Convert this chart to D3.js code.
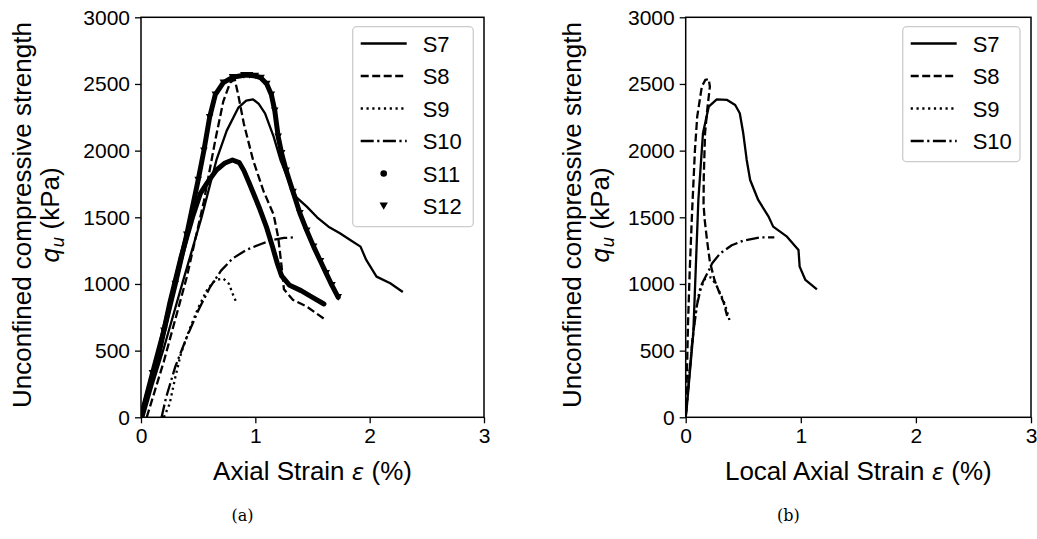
<!DOCTYPE html>
<html>
<head>
<meta charset="utf-8">
<script src="https://cdn.jsdelivr.net/npm/d3@7"></script>
<style>
body { margin: 0; background: #fff; }
text { font-family: "Liberation Sans", Arial, sans-serif; fill: #000; }
</style>
</head>
<body>
<svg width="1037" height="539"></svg>
<script>
// tick values
var xTicks = [0, 1, 2, 3];
var yTicks = [0, 500, 1000, 1500, 2000, 2500, 3000];

// (a) axial strain [%], qu [kPa]
var s7a = [[0.02,0],[0.1,240],[0.2,520],[0.36,1000],[0.53,1500],[0.66,1930],[0.75,2150],[0.85,2320],[0.92,2375],[0.98,2385],[1.03,2350],[1.085,2280],[1.16,2105],[1.22,1930],[1.29,1780],[1.36,1650],[1.45,1580],[1.54,1500],[1.64,1430],[1.74,1380],[1.83,1330],[1.92,1280],[1.97,1180],[2.06,1055],[2.18,1005],[2.29,940]];
var s8a = [[0.05,0],[0.2,420],[0.4,1050],[0.55,1620],[0.65,2080],[0.72,2370],[0.78,2510],[0.82,2535],[0.85,2420],[0.9,2200],[0.98,1930],[1.07,1700],[1.16,1520],[1.2,1350],[1.23,1130],[1.25,960],[1.33,880],[1.45,830],[1.6,740]];
var s9a = [[0.2,0],[0.25,100],[0.3,300],[0.35,480],[0.42,650],[0.5,820],[0.58,960],[0.65,1030],[0.72,1040],[0.77,1000],[0.8,930],[0.84,850]];
var s10a = [[0.18,0],[0.22,150],[0.3,380],[0.4,600],[0.5,800],[0.6,970],[0.7,1100],[0.8,1190],[0.92,1255],[1.05,1300],[1.15,1330],[1.25,1345],[1.35,1350]];
var s11a = [[0,0],[0.05,150],[0.15,450],[0.25,850],[0.35,1200],[0.45,1500],[0.52,1680],[0.58,1760],[0.66,1855],[0.73,1905],[0.8,1930],[0.86,1910],[0.9,1850],[0.95,1750],[1.04,1560],[1.1,1420],[1.15,1280],[1.19,1160],[1.23,1060],[1.3,990],[1.4,950],[1.5,900],[1.6,850]];
var s12a = [[0,0],[0.1,330],[0.2,650],[0.3,1000],[0.4,1370],[0.5,1780],[0.55,2000],[0.6,2250],[0.65,2420],[0.72,2510],[0.8,2550],[0.9,2565],[0.95,2565],[1.0,2560],[1.05,2545],[1.1,2500],[1.14,2420],[1.17,2300],[1.2,2105],[1.23,1980],[1.27,1850],[1.33,1690],[1.39,1530],[1.45,1400],[1.51,1280],[1.57,1170],[1.62,1080],[1.67,990],[1.725,900]];

// (b) local axial strain [%], qu [kPa]
var s7b = [[0,0],[0.01,80],[0.066,630],[0.11,1630],[0.15,2130],[0.2,2330],[0.27,2385],[0.36,2380],[0.43,2342],[0.47,2280],[0.5,2130],[0.53,1930],[0.56,1780],[0.63,1630],[0.72,1505],[0.76,1430],[0.88,1355],[0.98,1255],[0.99,1130],[1.04,1030],[1.14,960]];
var s8b = [[0,0],[0.01,300],[0.02,700],[0.035,1100],[0.055,1530],[0.08,2000],[0.1,2255],[0.14,2480],[0.17,2530],[0.2,2537],[0.21,2480],[0.19,2330],[0.168,2130],[0.157,1800],[0.155,1600],[0.165,1480],[0.185,1330],[0.21,1167],[0.25,1030],[0.29,940],[0.33,860],[0.36,760]];
var s9b = [[0,0],[0.02,200],[0.05,500],[0.08,750],[0.12,950],[0.17,1040],[0.22,1050],[0.26,1000],[0.3,930],[0.34,850],[0.38,730]];
var s10b = [[0,0],[0.03,300],[0.06,600],[0.1,850],[0.14,1000],[0.2,1100],[0.23,1155],[0.3,1230],[0.4,1290],[0.5,1325],[0.65,1350],[0.77,1350]];

var svg = d3.select("svg");

var styles = {
    solid: null,
    dashed: "8,3.5",
    dotted: "2.2,3.6",
    dashdot: "13,3.5,2.2,3.5"
};

function panel(x0, x1, xlabel, caption, ylabelX, series, legend) {
    var xScale = d3.scaleLinear().domain([0, 3]).range([x0, x1]);
    var yScale = d3.scaleLinear().domain([0, 3000]).range([417.3, 17.3]);
    var g = svg.append("g");

    var clip = "clip" + Math.round(x0);
    svg.append("clipPath").attr("id", clip).append("rect")
        .attr("x", x0).attr("y", 17.3).attr("width", x1 - x0).attr("height", 400);

    var line = d3.line().x(function (d) { return xScale(d[0]); }).y(function (d) { return yScale(d[1]); });

    var plot = g.append("g").attr("clip-path", "url(#" + clip + ")");
    series.forEach(function (s) {
        plot.append("path").datum(s.data)
            .attr("d", line)
            .attr("fill", "none")
            .attr("stroke", "#000")
            .attr("stroke-width", s.width || 2.3)
            .attr("stroke-linecap", s.marker ? "round" : "butt")
            .attr("stroke-linejoin", "round")
            .attr("stroke-dasharray", styles[s.style]);
        if (s.marker == "tri") {
            plot.selectAll(null).data(s.data).enter().append("path")
                .attr("d", "M-3.8,-3.2L3.8,-3.2L0,3.4Z")
                .attr("transform", function (d) { return "translate(" + xScale(d[0]) + "," + yScale(d[1]) + ")"; })
                .attr("fill", "#000");
        }
    });

    var xAxis = d3.axisBottom(xScale).tickValues(xTicks).tickFormat(d3.format("d")).tickSize(6).tickPadding(5);
    var gx = g.append("g").attr("transform", "translate(0,417.3)").call(xAxis);
    var yAxis = d3.axisLeft(yScale).tickValues(yTicks).tickFormat(d3.format("d")).tickSize(6).tickPadding(5);
    var gy = g.append("g").attr("transform", "translate(" + x0 + ",0)").call(yAxis);
    [gx, gy].forEach(function (a) {
        a.select(".domain").remove();
        a.selectAll(".tick line").attr("stroke", "#000").attr("stroke-width", 1.3);
        a.selectAll("text").style("font-size", "21px").attr("fill", "#000");
    });

    g.append("rect").attr("x", x0).attr("y", 17.3).attr("width", x1 - x0).attr("height", 400)
        .attr("fill", "none").attr("stroke", "#000").attr("stroke-width", 1.5);

    // x label
    var xl = g.append("text").attr("x", (x0 + x1) / 2).attr("y", 480)
        .attr("text-anchor", "middle").style("font-size", "26px");
    xl.append("tspan").text(xlabel + " ");
    xl.append("tspan").style("font-style", "italic").style("font-family", "DejaVu Sans").style("font-size", "23px").text("ε");
    xl.append("tspan").text(" (%)");

    // y label
    var yl = g.append("g").attr("transform", "translate(" + ylabelX + ",215) rotate(-90)");
    yl.append("text").attr("text-anchor", "middle").attr("y", 0).style("font-size", "26px")
        .text("Unconfined compressive strength");
    var q = yl.append("text").attr("text-anchor", "middle").attr("y", 28).style("font-size", "26px");
    q.append("tspan").style("font-style", "italic").style("font-family", "DejaVu Sans").style("font-size", "24px").text("q");
    q.append("tspan").style("font-style", "italic").style("font-family", "DejaVu Sans").style("font-size", "17px").attr("dy", 5).text("u");
    q.append("tspan").attr("dy", -5).text(" (kPa)");

    // caption
    g.append("text").attr("x", (x0 + x1) / 2 - 70).attr("y", 521).attr("text-anchor", "middle")
        .style("font-family", "DejaVu Serif").style("font-size", "16px").text(caption);

    // legend
    var lg = g.append("g");
    lg.append("rect").attr("x", legend.x).attr("y", 26.7).attr("width", legend.w)
        .attr("height", series.length * 32.5 + 5).attr("rx", 4)
        .attr("fill", "#fff").attr("fill-opacity", 0.8).attr("stroke", "#ccc").attr("stroke-width", 1.3);
    series.forEach(function (s, i) {
        var yy = 43.5 + i * 32.5;
        var lx = legend.x + 8;
        if (s.marker == "dot") {
            lg.append("circle").attr("cx", lx + 23).attr("cy", yy).attr("r", 3.3).attr("fill", "#000");
        } else if (s.marker == "tri") {
            lg.append("path").attr("d", "M-4.2,-3.6L4.2,-3.6L0,3.8Z")
                .attr("transform", "translate(" + (lx + 23) + "," + yy + ")").attr("fill", "#000");
        } else {
            lg.append("line").attr("x1", lx).attr("x2", lx + 46).attr("y1", yy).attr("y2", yy)
                .attr("stroke", "#000").attr("stroke-width", 2.3)
                .attr("stroke-dasharray", styles[s.style]);
        }
        lg.append("text").attr("x", lx + 62).attr("y", yy + 8).style("font-size", "22px").text(s.name);
    });
}

panel(141, 484, "Axial Strain", "(a)", 31, [
    { name: "S7", data: s7a, style: "solid" },
    { name: "S8", data: s8a, style: "dashed" },
    { name: "S9", data: s9a, style: "dotted" },
    { name: "S10", data: s10a, style: "dashdot" },
    { name: "S11", data: s11a, style: "solid", marker: "dot", width: 5 },
    { name: "S12", data: s12a, style: "solid", marker: "tri", width: 5 }
], { x: 352.7, w: 120.6 });

panel(685.7, 1031, "Local Axial Strain", "(b)", 581, [
    { name: "S7", data: s7b, style: "solid" },
    { name: "S8", data: s8b, style: "dashed" },
    { name: "S9", data: s9b, style: "dotted" },
    { name: "S10", data: s10b, style: "dashdot" }
], { x: 902.7, w: 117.3 });
</script>
</body>
</html>
